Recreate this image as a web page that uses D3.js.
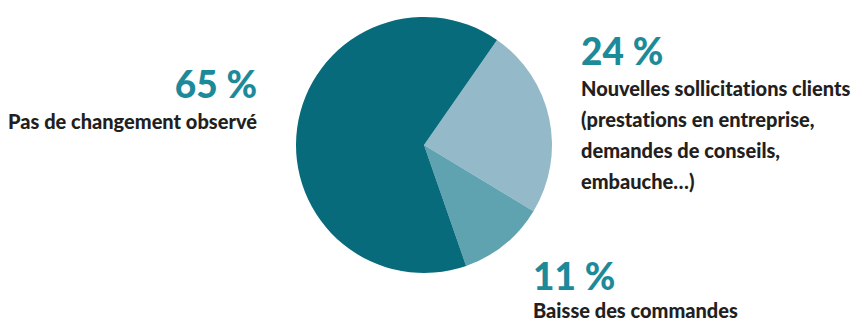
<!DOCTYPE html>
<html>
<head>
<meta charset="utf-8">
<script src="https://cdn.jsdelivr.net/npm/d3@7"></script>
<style>
  body { margin: 0; background: #fff; }
  svg { display: block; font-family: Lato, "Noto Sans", sans-serif; font-variant-ligatures: none; }
  .pct { fill: #1d8a9a; font-weight: 900; font-size: 37px; }
  .lbl { fill: #231f20; font-weight: 900; font-size: 20px; }
</style>
</head>
<body>
<svg width="856" height="320"></svg>
<script>
const categories = ["Nouvelles sollicitations clients", "Baisse des commandes", "Pas de changement observé"];
const values = [24, 11, 65];
const colors = ["#94b9c8", "#5fa3b1", "#076b7b"];
const pctLabels = ["24 %", "11 %", "65 %"];
const labelLines = [
  ["Nouvelles sollicitations clients", "(prestations en entreprise,", "demandes de conseils,", "embauche…)"],
  ["Baisse des commandes"],
  ["Pas de changement observé"]
];

const svg = d3.select("svg");
const cx = 424, cy = 145, r = 128;
const startOffset = 34.8 * Math.PI / 180;

const pie = d3.pie()
  .sort(null)
  .value(d => d)
  .startAngle(startOffset)
  .endAngle(startOffset + 2 * Math.PI);
const arc = d3.arc().innerRadius(0).outerRadius(r);

svg.append("g")
  .attr("transform", `translate(${cx},${cy})`)
  .selectAll("path")
  .data(pie(values))
  .join("path")
  .attr("d", arc)
  .attr("fill", (d, i) => colors[i]);

// label blocks: x, percentage baseline, first label baseline, anchor
const blocks = [
  { x: 581, py: 65, ly: 96, anchor: "start" },
  { x: 533, py: 290, ly: 318, anchor: "start" },
  { x: 257, py: 98, ly: 129, anchor: "end" }
];
const lineGap = 31;

blocks.forEach((b, i) => {
  const g = svg.append("g");
  g.append("text")
    .attr("class", "pct")
    .attr("x", b.x)
    .attr("y", b.py)
    .attr("text-anchor", b.anchor)
    .text(pctLabels[i]);
  g.selectAll("text.lbl")
    .data(labelLines[i])
    .join("text")
    .attr("class", "lbl")
    .attr("x", b.x)
    .attr("y", (d, j) => b.ly + j * lineGap)
    .attr("text-anchor", b.anchor)
    .text(d => d);
});
</script>
</body>
</html>
